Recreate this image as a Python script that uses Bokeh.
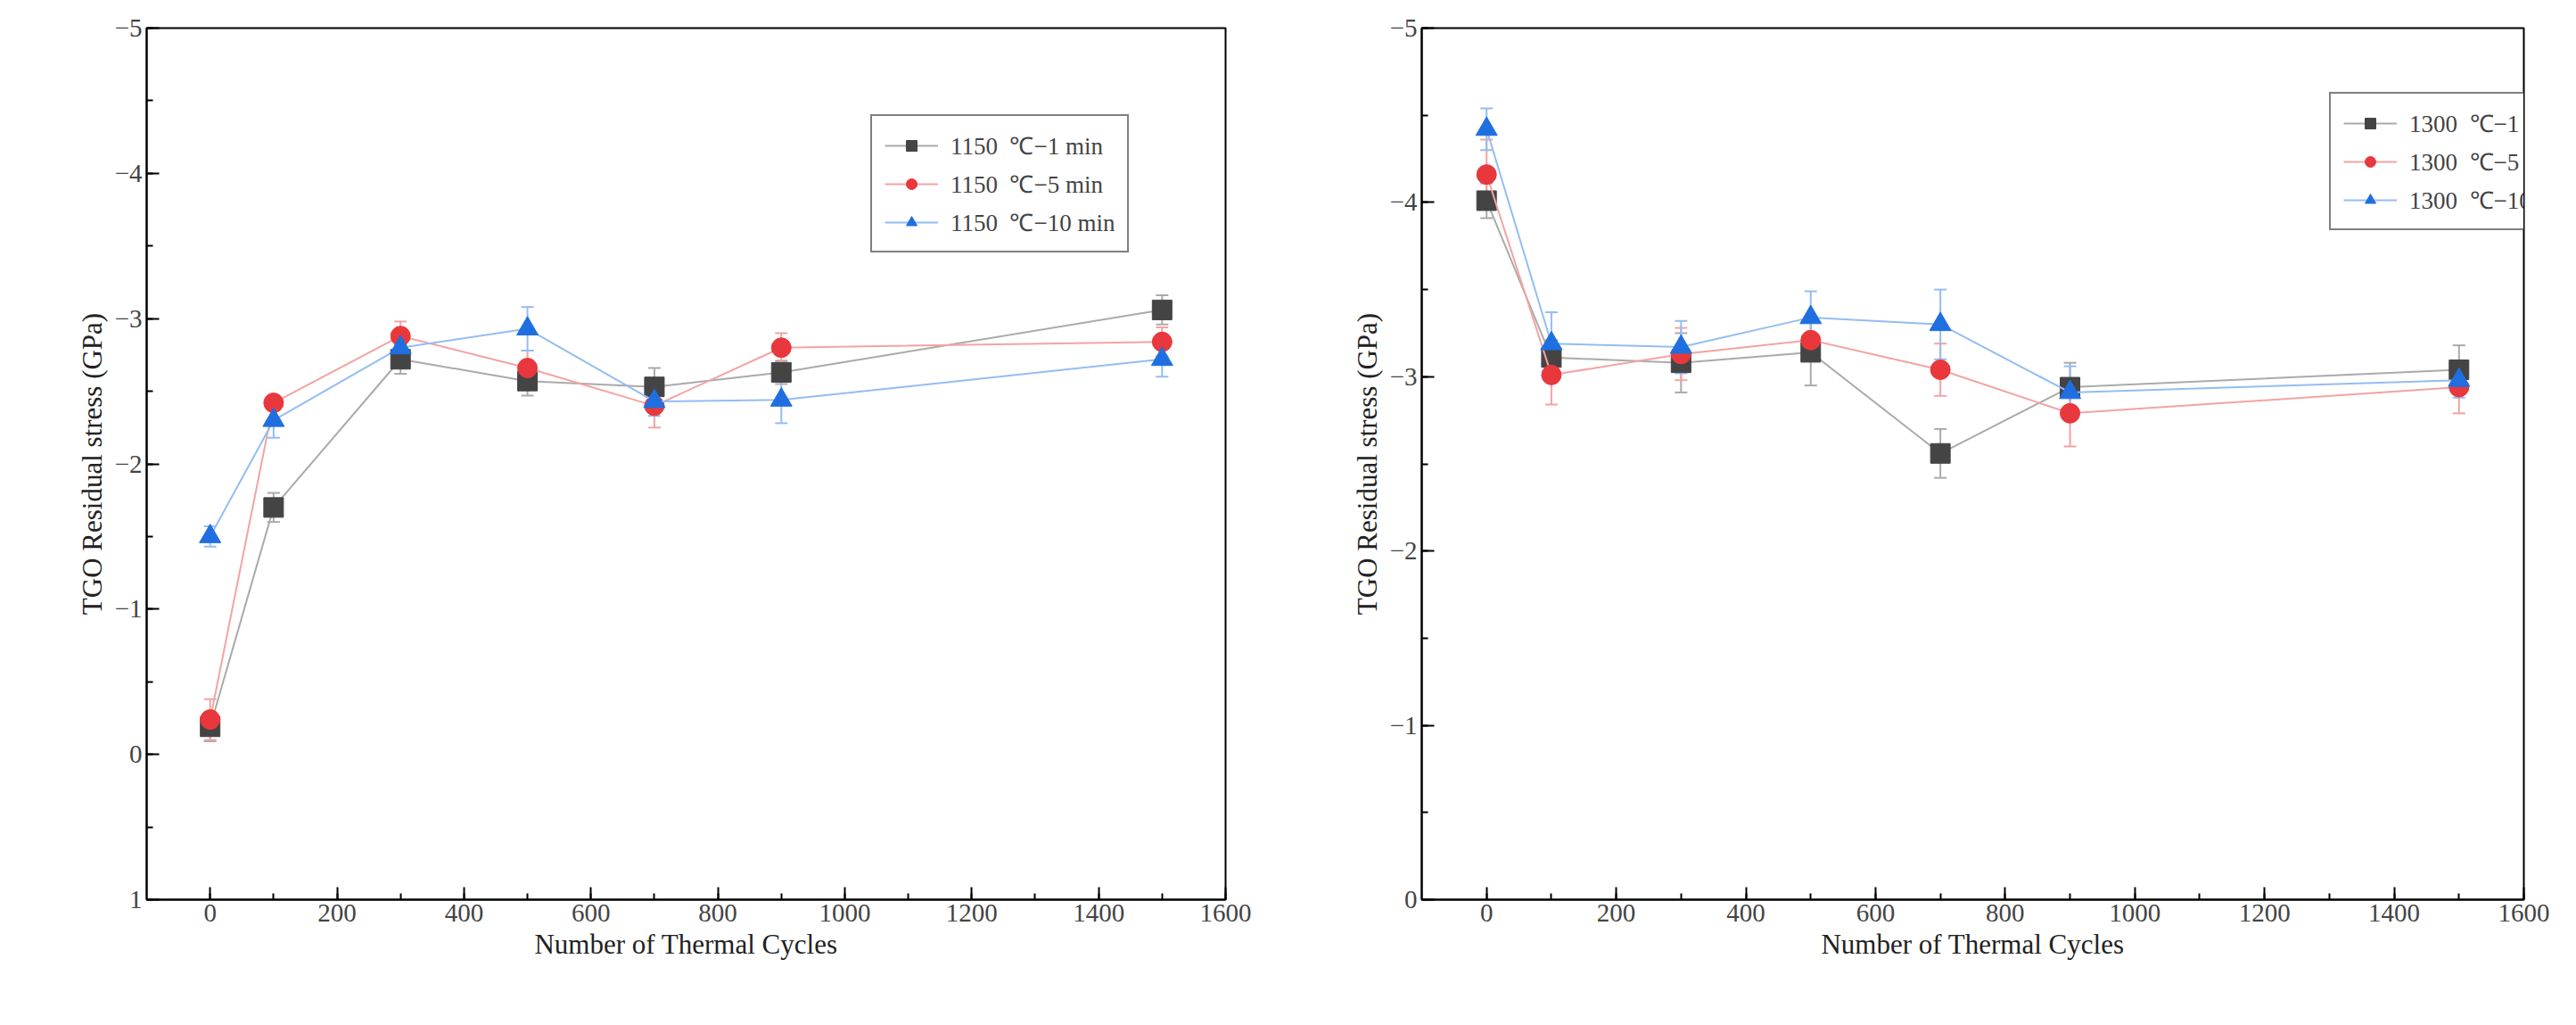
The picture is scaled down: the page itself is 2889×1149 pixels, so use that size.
from bokeh.plotting import figure
from bokeh.layouts import row
from bokeh.models import Range1d, FixedTicker, Whisker, TeeHead, ColumnDataSource, Legend, LegendItem, Label
from bokeh.embed import file_html
from bokeh.resources import INLINE

cycles = [0, 100, 300, 500, 700, 900, 1500]
a_1 = [-0.19, -1.70, -2.72, -2.57, -2.53, -2.63, -3.06]
a_5 = [-0.24, -2.42, -2.88, -2.66, -2.40, -2.80, -2.84]
a_10 = [-1.50, -2.30, -2.80, -2.93, -2.43, -2.44, -2.72]
a_1e = [0.10, 0.10, 0.10, 0.10, 0.13, 0.08, 0.10]
a_5e = [0.14, 0.05, 0.10, 0.12, 0.15, 0.10, 0.10]
a_10e = [0.07, 0.12, 0.08, 0.15, 0.10, 0.16, 0.12]
b_1 = [-4.01, -3.11, -3.08, -3.14, -2.56, -2.94, -3.04]
b_5 = [-4.16, -3.01, -3.13, -3.21, -3.04, -2.79, -2.94]
b_10 = [-4.42, -3.19, -3.17, -3.34, -3.30, -2.91, -2.98]
b_1e = [0.10, 0.10, 0.17, 0.19, 0.14, 0.14, 0.14]
b_5e = [0.20, 0.17, 0.15, 0.10, 0.15, 0.19, 0.15]
b_10e = [0.12, 0.18, 0.15, 0.15, 0.20, 0.15, 0.10]

FONT = "Liberation Serif"
MK = ["#444444", "#e8383d", "#1f6fe0"]
LN = ["#aaaaaa", "#f3a3a3", "#93bdf2"]
SHAPES = ["square", "circle", "triangle"]


def panel(tag, temp, series, errs, ymin, w, h, bl, br, bt, bb, leg_xy, tag_dx):
    p = figure(width=w, height=h, output_backend="svg", toolbar_location=None,
               x_range=Range1d(-100, 1600), y_range=Range1d(ymin, -5),
               min_border_left=bl, min_border_right=br, min_border_top=bt, min_border_bottom=bb)
    p.xgrid.visible = False
    p.ygrid.visible = False
    p.outline_line_color = "black"
    p.outline_line_width = 2
    p.xaxis.ticker = FixedTicker(ticks=list(range(0, 1601, 200)), minor_ticks=list(range(0, 1601, 100)))
    yt = list(range(-5, ymin + 1))
    p.yaxis.ticker = FixedTicker(ticks=yt, minor_ticks=[v / 2 for v in range(-10, 2 * ymin + 1)])
    p.yaxis.major_label_overrides = {v: (str(v).replace("-", "−")) for v in yt}
    for ax in (p.xaxis[0], p.yaxis[0]):
        ax.axis_line_width = 2
        ax.major_tick_in = 14
        ax.major_tick_out = 0
        ax.minor_tick_in = 7
        ax.minor_tick_out = 0
        ax.major_tick_line_width = 2
        ax.minor_tick_line_width = 2
        ax.major_label_text_font = FONT
        ax.major_label_text_font_size = "29px"
        ax.major_label_text_color = "#444444"
        ax.axis_label_text_font = FONT
        ax.axis_label_text_font_size = "31px"
        ax.axis_label_text_font_style = "normal"
        ax.axis_label_text_color = "#222222"
    p.xaxis.axis_label = "Number of Thermal Cycles"
    p.yaxis.axis_label = "TGO Residual stress (GPa)"
    items = []
    for i, (ys, es) in enumerate(zip(series, errs)):
        src = ColumnDataSource(dict(x=cycles, y=ys, lo=[a - b for a, b in zip(ys, es)],
                                    hi=[a + b for a, b in zip(ys, es)]))
        p.add_layout(Whisker(source=src, base="x", lower="lo", upper="hi", line_color=LN[i], line_width=2,
                             upper_head=TeeHead(size=14, line_color=LN[i], line_width=2),
                             lower_head=TeeHead(size=14, line_color=LN[i], line_width=2)))
        l = p.line("x", "y", source=src, color=LN[i], line_width=2)
        m = p.scatter("x", "y", source=src, marker=SHAPES[i], size=22 if i < 2 else 24, color=MK[i])
        label = f"{temp}  ℃−{[1, 5, 10][i]} min"
        items.append(LegendItem(label=label, renderers=[l, m]))
    leg = Legend(items=items, location=leg_xy, label_text_font=FONT, label_text_font_size="27px",
                 border_line_color="black", border_line_width=2, glyph_width=60, glyph_height=30,
                 spacing=6, padding=14, label_standoff=14, margin=0)
    p.add_layout(leg, "center")
    p.add_layout(Label(x=-bl + tag_dx, y=h - bt - bb - 32, x_units="screen", y_units="screen", text=tag,
                       text_color="#e02020", text_font=FONT, text_font_size="32px"))
    return p


pa = panel("(a)", 1150, [a_1, a_5, a_10], [a_1e, a_5e, a_10e], 1, 1436, 1125, 164, 62, 31, 107, (812, 725), 10)
pb = panel("(b)", 1300, [b_1, b_5, b_10], [b_1e, b_5e, b_10e], 0, 1436, 1125, 158, 42, 14, 117, (1018, 750), 45)
open("out.html", "w").write(file_html(row(pa, pb), INLINE))
